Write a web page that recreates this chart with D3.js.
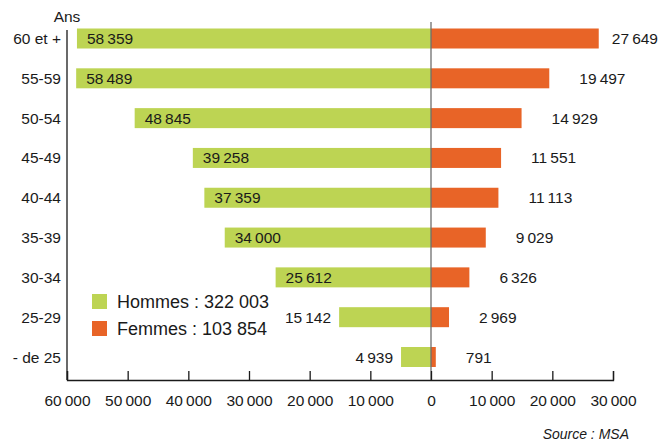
<!DOCTYPE html>
<html>
<head>
<meta charset="utf-8">
<script src="https://cdn.jsdelivr.net/npm/d3@7"></script>
<style>
  body { margin: 0; background: #fff; }
  svg { font-family: "Liberation Sans", Arial, sans-serif; }
  text { fill: #1a1a1a; }
</style>
</head>
<body>
<svg id="chart" width="659" height="441"></svg>
<script>
    // tranches d'age, du haut vers le bas
    var ages = ['60 et +', '55-59', '50-54', '45-49', '40-44', '35-39', '30-34', '25-29', '- de 25'];
    var hommes = [58359, 58489, 48845, 39258, 37359, 34000, 25612, 15142, 4939];
    var femmes = [27649, 19497, 14929, 11551, 11113, 9029, 6326, 2969, 791];
    var tickValues = [-60000, -50000, -40000, -30000, -20000, -10000, 0, 10000, 20000, 30000];
    var legendLabels = ['Hommes : 322 003', 'Femmes : 103 854'];

    var green = '#bdd453',
        orange = '#e86427';
    var fs = 15.5;

    var svg = d3.select('#chart'),
        width = +svg.attr('width'),
        height = +svg.attr('height');

    var fr = d3.formatLocale({ decimal: ',', thousands: '\u2009', grouping: [3], currency: ['', ' €'] });
    var fmt = fr.format(',d');

    var x = d3.scaleLinear().domain([-60000, 30000]).range([67, 613]);
    var y = d3.scalePoint().domain(ages).range([38.5, 357]);
    var barH = 20;

    // barres hommes
    svg.append('g').selectAll('rect')
      .data(ages)
      .enter().append('rect')
      .attr('x', function(d, i) { return x(-hommes[i]); })
      .attr('y', function(d) { return y(d) - barH / 2; })
      .attr('width', function(d, i) { return x(0) - x(-hommes[i]); })
      .attr('height', barH)
      .attr('fill', green);

    // barres femmes
    svg.append('g').selectAll('rect')
      .data(ages)
      .enter().append('rect')
      .attr('x', x(0))
      .attr('y', function(d) { return y(d) - barH / 2; })
      .attr('width', function(d, i) { return x(femmes[i]) - x(0); })
      .attr('height', barH)
      .attr('fill', orange);

    // valeurs hommes : dans la barre, ou a gauche si trop courte
    svg.append('g').selectAll('text')
      .data(ages)
      .enter().append('text')
      .attr('font-size', fs)
      .attr('y', function(d) { return y(d) + 5.5; })
      .attr('x', function(d, i) {
        var w = x(0) - x(-hommes[i]);
        return w > 120 ? x(-hommes[i]) + 10 : x(-hommes[i]) - 8;
      })
      .attr('text-anchor', function(d, i) {
        return (x(0) - x(-hommes[i])) > 120 ? 'start' : 'end';
      })
      .text(function(d, i) { return fmt(hommes[i]); });

    // valeurs femmes
    var fl = svg.append('g').selectAll('text')
      .data(ages)
      .enter().append('text')
      .attr('font-size', fs)
      .attr('y', function(d) { return y(d) + 5.5; })
      .text(function(d, i) { return fmt(femmes[i]); });
    fl.attr('x', function(d, i) {
      var tw = this.getComputedTextLength();
      return Math.min(x(femmes[i]) + 30, width - 1 - tw);
    });

    // axe zero
    svg.append('line')
      .attr('x1', x(0)).attr('x2', x(0))
      .attr('y1', 22).attr('y2', 380)
      .attr('stroke', '#6e6e6e')
      .attr('stroke-width', 1.3);

    // axe vertical gauche
    svg.append('line')
      .attr('x1', x(-60000)).attr('x2', x(-60000))
      .attr('y1', 30).attr('y2', 380)
      .attr('stroke', '#1a1a1a')
      .attr('stroke-width', 1.3);

    svg.append('text')
      .attr('x', x(-60000)).attr('y', 22)
      .attr('text-anchor', 'middle')
      .attr('font-size', fs)
      .text('Ans');

    svg.append('g').selectAll('text')
      .data(ages)
      .enter().append('text')
      .attr('x', 61)
      .attr('y', function(d) { return y(d) + 5.5; })
      .attr('text-anchor', 'end')
      .attr('font-size', fs)
      .text(function(d) { return d; });

    // axe horizontal
    var xAxis = d3.axisBottom(x)
      .tickValues(tickValues)
      .tickSize(-9)
      .tickPadding(16)
      .tickFormat(function(d) { return fmt(Math.abs(d)); });

    var gx = svg.append('g')
      .attr('transform', 'translate(0,380)')
      .call(xAxis);
    gx.select('.domain').attr('stroke', '#1a1a1a').attr('stroke-width', 1.3);
    gx.selectAll('.tick line').attr('stroke', '#1a1a1a').attr('stroke-width', 1.3);
    gx.selectAll('.tick text')
      .attr('font-size', fs)
      .attr('font-family', '"Liberation Sans", Arial, sans-serif')
      .attr('fill', '#1a1a1a')
      .attr('dy', null)
      .attr('y', 26);

    // legende
    var legend = svg.append('g').selectAll('g')
      .data(legendLabels)
      .enter().append('g')
      .attr('transform', function(d, i) { return 'translate(92,' + (294 + i * 27) + ')'; });
    legend.append('rect')
      .attr('width', 15).attr('height', 15)
      .attr('fill', function(d, i) { return i === 0 ? green : orange; });
    legend.append('text')
      .attr('x', 25).attr('y', 14)
      .attr('font-size', 18)
      .attr('fill', '#333')
      .text(function(d) { return d; });

    svg.append('text')
      .attr('x', 629).attr('y', 439)
      .attr('text-anchor', 'end')
      .attr('font-size', 14)
      .attr('font-style', 'italic')
      .attr('fill', '#333')
      .text('Source : MSA');
</script>
</body>
</html>
